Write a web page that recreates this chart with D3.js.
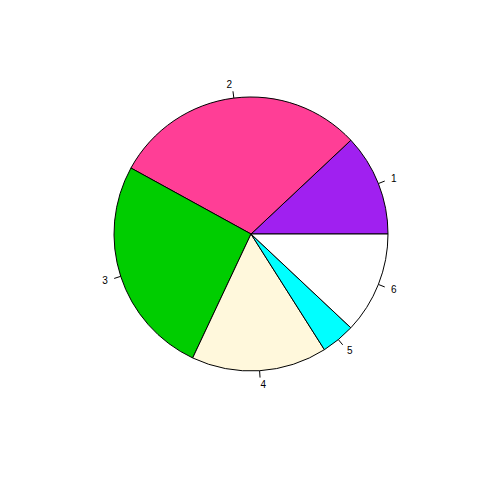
<!DOCTYPE html>
<html><head><meta charset="utf-8">
<script src="https://cdn.jsdelivr.net/npm/d3@7"></script>
<style>body{margin:0;background:#fff}</style>
</head><body>
<svg id="c" width="480" height="480"></svg>
<script>
const labels = ["1","2","3","4","5","6"];
const values = [12, 30, 26, 16, 4, 12];
const colors = ["#A020F0","#FF3E96","#00CD00","#FFF8DC","#00FFFF","#FFFFFF"];

const cx = 251, cy = 234, R = 137;
const svg = d3.select("#c");
svg.append("rect").attr("width",480).attr("height",480).attr("fill","#fff");
const g = svg.append("g").attr("transform",`translate(${cx},${cy})`);
const pie = d3.pie().sort(null).value(d=>d).startAngle(Math.PI/2).endAngle(Math.PI/2 - 2*Math.PI);
const arcs = pie(values);
const arc = d3.arc().innerRadius(0).outerRadius(R);
g.selectAll("path.slice").data(arcs).enter().append("path")
  .attr("class","slice")
  .attr("d",arc)
  .attr("fill",(d,i)=>colors[i])
  .attr("stroke","#000").attr("stroke-width",1);
arcs.forEach((d,i)=>{
  const th = (d.startAngle + d.endAngle)/2;
  const x = Math.sin(th), y = -Math.cos(th);
  g.append("line").attr("x1",x*R).attr("y1",y*R).attr("x2",x*R*1.05).attr("y2",y*R*1.05)
    .attr("stroke","#000").attr("stroke-width",1);
  g.append("text").attr("x",x*R*1.1).attr("y",y*R*1.1)
    .attr("dy","0.35em")
    .attr("text-anchor", x>0 ? "start" : "end")
    .attr("font-family","Liberation Sans, Arial, sans-serif")
    .attr("font-size",10)
    .text(labels[i]);
});
</script>
</body></html>
